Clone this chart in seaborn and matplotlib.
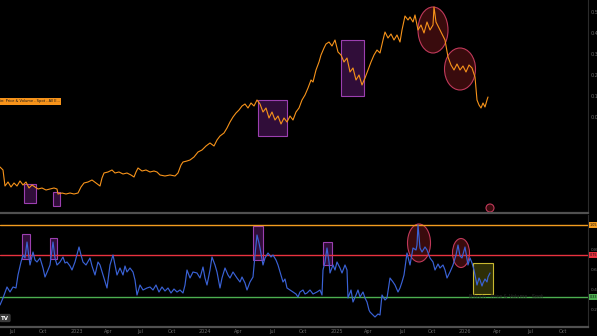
import matplotlib
matplotlib.use("Agg")
import matplotlib.pyplot as plt
import seaborn as sns
import pandas as pd
from matplotlib.patches import Rectangle, Ellipse
from matplotlib.transforms import blended_transform_factory

# ---------------- data (bar index = time axis) ----------------
price_bar = [0,3,5,8,11,14,17,20,23,26,29,32,35,38,42,46,50,54,57,58,62,66,70,74,78,81,84,88,92,96,
             100,102,104,108,112,115,119,123,127,131,134,136,138,142,146,150,154,157,160,165,170,175,178,
             181,183,187,190,194,198,202,206,210,214,217,220,224,227,230,233,236,239,242,245,248,251,254,
             257,260,263,266,269,272,275,278,281,284,287,290,293,296,299,302,305,308,311,313,316,319,321,
             324,326,329,332,335,338,341,344,347,350,353,356,359,362,365,368,371,374,377,380,383,385,388,
             391,394,397,400,402,405,408,410,413,415,418,421,424,427,430,433,434,436,438,440,443,445,448,
             451,454,457,460,463,466,469,472,475,477,479,481,483,485,487,488]
price_val = [31.5,30,22,24,21.5,23.5,22,24.5,22.5,24,21,22.5,21.5,20.5,21,20,20.5,21,20.5,18,18.5,18,18.5,18,18.5,
             21.5,23.5,24,25,23.5,22,26,28.5,29,30,28.5,29,28,28.5,27.5,26.5,29,31,29.5,30,29,29.5,29,27.5,27,
             27.5,27,28.5,32.5,34,34.5,35,36.5,39,40,42,43.5,42,45,47,48.5,51,54,56.5,58.5,60,62,63,61,63.5,62,
             65,63,59,61,56,59,55,57,53,56,54,57,55,59,61,65,67.5,71,75,74,80,84,87.5,91,93,94,92,95,89,87.5,
             84,86,79,81,75,77.5,72.5,76,80,84,87.5,90,88.5,95,99,96,98,95,97.5,94,100,107,105,106.5,104,107.5,
             100,102.5,98.5,104,100,102.5,111.5,104,102,100,97,95,86.5,82.5,80,83,80,82,79,82.5,81,76.5,65,
             62.5,61,63.5,61.5,65,66.5]

osc_bar = [0,3,7,10,13,16,18,21,23,25,27,30,33,35,37,40,43,45,48,50,53,55,57,60,63,65,67,70,72,75,79,81,83,86,
           90,92,95,98,100,103,105,107,110,113,115,117,120,123,125,127,130,133,135,137,140,143,147,150,153,156,
           159,162,165,168,171,174,177,180,183,185,187,190,193,197,200,203,205,207,210,212,215,217,220,222,225,
           228,230,233,237,240,242,245,247,250,253,255,257,259,260,263,265,268,271,273,276,278,281,283,285,287,
           290,293,296,298,300,303,305,307,310,313,317,320,322,323,325,327,329,330,333,335,337,340,342,345,347,
           348,351,353,356,358,360,363,365,367,369,370,373,375,378,380,382,385,387,389,390,393,395,398,400,402,
           404,407,410,413,416,417,418,420,422,425,427,430,433,435,438,440,443,445,447,450,453,456,458,460,462,
           465,468,470,472,474,477,479,480,482,483,485,487,488,490]
osc_val = [0.25,0.32,0.43,0.38,0.43,0.42,0.55,0.68,0.75,0.72,0.88,0.65,0.78,0.70,0.68,0.72,0.62,0.53,0.60,0.65,
           0.88,0.72,0.65,0.68,0.73,0.67,0.68,0.64,0.60,0.68,0.83,0.75,0.68,0.65,0.72,0.64,0.55,0.68,0.65,0.55,
           0.48,0.42,0.65,0.75,0.65,0.55,0.62,0.55,0.64,0.58,0.62,0.58,0.50,0.35,0.45,0.40,0.42,0.43,0.40,0.45,
           0.38,0.43,0.39,0.42,0.37,0.41,0.38,0.40,0.37,0.45,0.60,0.52,0.58,0.57,0.52,0.63,0.52,0.45,0.60,0.73,
           0.65,0.58,0.42,0.52,0.62,0.55,0.52,0.58,0.52,0.48,0.53,0.47,0.40,0.48,0.53,0.75,0.95,0.87,0.82,0.65,
           0.72,0.77,0.73,0.75,0.70,0.65,0.55,0.48,0.51,0.42,0.40,0.38,0.36,0.33,0.38,0.40,0.36,0.37,0.40,0.36,
           0.38,0.40,0.35,0.60,0.68,0.82,0.68,0.57,0.65,0.60,0.68,0.62,0.57,0.65,0.60,0.32,0.40,0.28,0.35,0.40,
           0.33,0.38,0.32,0.28,0.20,0.18,0.15,0.13,0.16,0.15,0.35,0.30,0.32,0.45,0.52,0.48,0.45,0.38,0.42,0.48,
           0.55,0.77,0.65,0.82,0.80,0.85,1.05,0.82,0.78,0.83,0.80,0.72,0.68,0.60,0.66,0.62,0.65,0.60,0.52,0.58,
           0.65,0.75,0.85,0.74,0.72,0.83,0.65,0.72,0.67,0.60,0.45,0.52,0.50,0.44,0.47,0.51,0.48,0.53,0.57]

levels = [1.05, 0.75, 0.33]
level_labels = ["1.05", "0.75", "0.33"]
level_colors = ["#f39c1f", "#e8323f", "#4caf50"]

date_bars = [12,43,77,108,140,172,205,238,272,303,337,368,402,432,465,497,530,563]
date_labels = ["Jul","Oct","2023","Apr","Jul","Oct","2024","Apr","Jul","Oct","2025","Apr","Jul","Oct",
               "2026","Apr","Jul","Oct"]

top_scale_ticks = [0.5, 0.4, 0.3, 0.2, 0.1, 0.0]
osc_ticks = [0.8, 0.6, 0.4, 0.2]

# ---------------- style ----------------
sns.set_style("dark")
plt.rcParams['font.family'] = ['DejaVu Sans']

W, H = 597, 336
fig = plt.figure(figsize=(W / 100, H / 100), dpi=100, facecolor="black")
ax1 = fig.add_axes([0, 1 - 213 / H, 588 / W, 213 / H])
ax2 = fig.add_axes([0, 1 - 327 / H, 588 / W, 112 / H])

for ax in (ax1, ax2):
    ax.set_facecolor("black")
    ax.grid(False)
    for s in ("top", "left"):
        ax.spines[s].set_visible(False)
    ax.spines["right"].set_color("#2b2b2b")
    ax.spines["right"].set_linewidth(0.8)
    ax.spines["bottom"].set_color("#505050")
    ax.spines["bottom"].set_linewidth(1.6)
    ax.set_xlim(0, 588)

# top panel
sns.lineplot(x=price_bar, y=price_val, ax=ax1, color="#f7931a", lw=0.8, estimator=None, sort=False)
ax1.set_ylim(8.5, 115)
ax1.set_xticks([])
ax1.set_yticks([])
ax1.set_xlabel("")
ax1.set_ylabel("")

tw = ax1.twinx()
tw.set_ylim(-0.457, 0.557)
tw.set_yticks(top_scale_ticks)
tw.set_yticklabels([f"{t:.1f}" for t in top_scale_ticks])
tw.tick_params(axis="y", length=0, pad=2, labelsize=3.5, labelcolor="#6a6a6a")
for s in tw.spines.values():
    s.set_visible(False)
tw.grid(False)

purple_fc = (0.42, 0.12, 0.5, 0.45)
purple_ec = "#9c3fb0"
for (x0, x1, y0, y1) in [(24, 36, 13.5, 23), (53, 60, 12, 19), (258, 287, 47, 65), (341, 364, 67, 95)]:
    ax1.add_patch(Rectangle((x0, y0), x1 - x0, y1 - y0, fc=purple_fc, ec=purple_ec, lw=0.8))
red_fc = (0.5, 0.1, 0.12, 0.45)
red_ec = "#c0395a"
for (cx, cy, w, h) in [(433, 100, 30, 23), (460, 80.5, 31, 21)]:
    ax1.add_patch(Ellipse((cx, cy), w, h, fc=red_fc, ec=red_ec, lw=0.8))
ax1.add_patch(Ellipse((490, 11), 8, 4, fc=red_fc, ec=red_ec, lw=0.8))

fig.text(0, 1 - 101.5 / H, "in: Price & Volume - Spot - All E...", fontsize=2.6, color="#1a1a1a",
         va="center", ha="left", bbox=dict(boxstyle="square,pad=0.35", fc="#f7931a", ec="none"))

# bottom panel
for lv, c in zip(levels, level_colors):
    ax2.axhline(lv, color=c, lw=1.0)
sns.lineplot(x=osc_bar, y=osc_val, ax=ax2, color="#3a62d6", lw=0.85, estimator=None, sort=False)
ax2.set_ylim(0.03, 1.15)
ax2.set_xlabel("")
ax2.set_ylabel("")
ax2.set_yticks([])
ax2.set_xticks(date_bars)
ax2.set_xticklabels(date_labels)
ax2.tick_params(axis="x", length=0, pad=1.5, labelsize=3.5, labelcolor="#6a6a6a")

for (x0, x1, y0, y1) in [(22, 30, 0.71, 0.96), (50, 57, 0.71, 0.92), (253, 263, 0.70, 1.04), (323, 332, 0.65, 0.88)]:
    ax2.add_patch(Rectangle((x0, y0), x1 - x0, y1 - y0, fc=purple_fc, ec=purple_ec, lw=0.8))
for (cx, cy, w, h) in [(419, 0.87, 23, 0.38), (461, 0.77, 17, 0.29)]:
    ax2.add_patch(Ellipse((cx, cy), w, h, fc=red_fc, ec=red_ec, lw=0.8))
ax2.add_patch(Rectangle((473, 0.36), 20, 0.31, fc=(0.6, 0.6, 0.1, 0.3), ec="#c8b830", lw=0.8))

tr = blended_transform_factory(ax2.transAxes, ax2.transData)
for t in osc_ticks:
    ax2.text(1.004, t, f"{t:.1f}", transform=tr, fontsize=3.2, color="#6a6a6a", va="center", ha="left",
             clip_on=False)
for lv, lab, c in zip(levels, level_labels, level_colors):
    ax2.text(1.003, lv, lab, transform=tr, fontsize=2.4, color="#111111", va="center", ha="left",
             clip_on=False, bbox=dict(boxstyle="square,pad=0.2", fc=c, ec="none"))

ax2.text(0.86, 0.27, "Bitcoin · Price & Volume · Spot", transform=ax2.transAxes, fontsize=3.5,
         color="#2a2a2a", ha="center", va="center")
fig.text(1 / W, 1 - 318 / H, "TV", fontsize=4, color="white", fontweight="bold", va="center", ha="left",
         bbox=dict(boxstyle="round,pad=0.3", fc="#3a3a3a", ec="none"))

fig.savefig("out.png", dpi=100, facecolor="black")
